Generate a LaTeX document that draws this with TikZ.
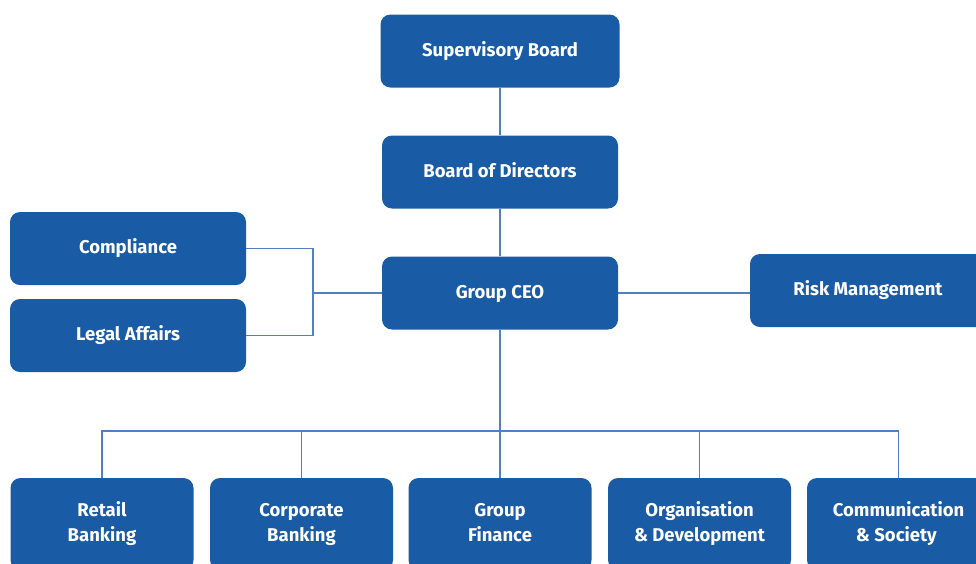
\documentclass[tikz,border=0pt]{standalone}
\usepackage{fontspec}
\setmainfont{Fira Sans}
\usetikzlibrary{positioning}
\definecolor{boxblue}{RGB}{26,91,165}
\definecolor{lineblue}{RGB}{78,128,194}
\tikzset{
    unit/.style={rounded corners=10pt, fill=boxblue, text=white, minimum width=236pt, minimum height=73pt, align=center, inner sep=0pt, font=\fontsize{18.5}{25}\selectfont\bfseries}, % box of the chart
    link/.style={draw=lineblue, line width=1.6pt} % connector line
}
\begin{document}
\begin{tikzpicture}[x=1pt, y=-1pt]
    \useasboundingbox (0,0) rectangle (976,563);

    \node[unit, minimum width=239pt] (super) at (500,51) {Supervisory Board\strut};
    \node[unit] (board) at (500,172) {Board of Directors\strut};
    \node[unit] (ceo) at (500,293) {Group CEO\strut};
    \node[unit] (compl) at (128,248.5) {Compliance\strut};
    \node[unit] (legal) at (128,335.5) {Legal Affairs\strut};
    \node[unit] (risk) at (868,290.5) {Risk Management\strut};

    \foreach \x / \unitname / \lineA / \lineB in {
        102/retail/Retail/Banking,
        301.5/corporate/Corporate/Banking,
        500/finance/Group/Finance,
        699.5/organisation/Organisation/{\& Development},
        898.5/communication/Communication/{\& Society}
    } {
        \node[unit, minimum width=183pt, minimum height=92pt] (\unitname) at (\x,524) {\lineA\strut\\\lineB\strut};
    }

    \coordinate (fork) at (313,293);
    \coordinate (bus) at (500,431);

    \draw[link] (super) -- (board);
    \draw[link] (board) -- (ceo);
    \draw[link] (compl.east) -| (fork) |- (legal.east);
    \draw[link] (fork) -- (ceo.west);
    \draw[link] (ceo.east) -- (ceo.east -| risk.west);
    \draw[link] (ceo.south) -- (bus);

    \foreach \unitname in {retail, corporate, finance, organisation, communication} {
        \draw[link] (\unitname.north) |- (bus);
    }

\end{tikzpicture}
\end{document}
